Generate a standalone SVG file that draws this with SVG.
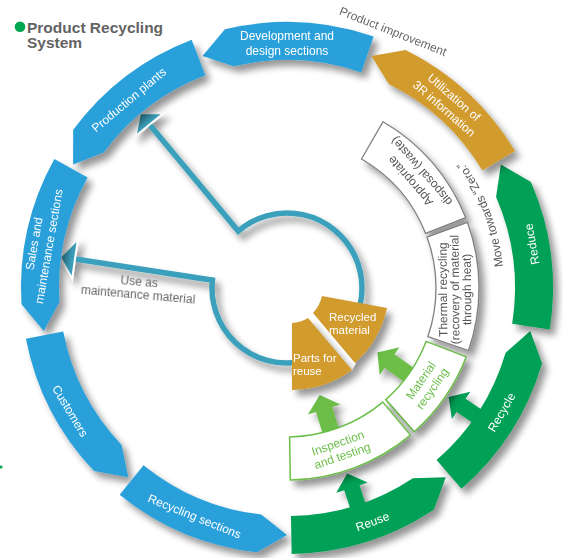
<svg xmlns="http://www.w3.org/2000/svg" width="563" height="558" viewBox="0 0 563 558">
<defs>
<filter id="sh" x="-30%" y="-30%" width="160%" height="160%">
<feGaussianBlur in="SourceAlpha" stdDeviation="3.8"/>
<feOffset dx="5" dy="6" result="o"/>
<feComponentTransfer in="o" result="s"><feFuncA type="linear" slope="0.42"/></feComponentTransfer>
<feMerge><feMergeNode in="s"/><feMergeNode in="SourceGraphic"/></feMerge>
</filter>
<path id="zeroArc" d="M504,288 A217,217 0 0 0 426.49,121.77"/>
</defs>
<style>
text{font-family:"Liberation Sans",Arial,sans-serif;font-size:12px}
.sh{filter:url(#sh)}
.blue{fill:#2AA0DA}
.green{fill:#00A056}
.gold{fill:#D19B2F}
.wt{fill:#fff}
.gt{fill:#666}
.dt{fill:#555}
.lgt{fill:#6CBE4A}
.sm{font-size:11.5px}
.box{fill:#fff;stroke:#808080;stroke-width:1.3}
.gbox{fill:#fff;stroke:#6CBE4A;stroke-width:1.5}
.teal{fill:none;stroke:#3AA0BC;stroke-width:5.5;stroke-linejoin:miter}
.thead{fill:#3AA0BC;stroke:#fff;stroke-width:2;stroke-linejoin:miter}
.ttl{font-size:15.5px;font-weight:bold;fill:#636363}
</style>
<rect width="563" height="558" fill="#fff"/>

<g id="title">
<circle cx="20" cy="26.7" r="5.3" fill="#00A651"/>
<text class="ttl" x="27" y="32.5">Product Recycling</text>
<text class="ttl" x="27" y="48">System</text>
<circle cx="1" cy="467" r="1.6" fill="#00A651"/>
</g>

<g id="connectors" class="sh">
<path class="teal" d="M75,259 L212.41,280.16 A75,75 0 1 0 238.19,231.05 L149.5,124.6"/>
<polygon class="thead" points="60,257 77.9,239.2 72.1,278.8"/>
<polygon class="thead" points="140,113 163.4,113.2 135.6,136"/>
<polygon fill="#6CBE4A" transform="translate(287,288) rotate(73)" points="112,0 127,-17 127,-8.5 151,-8.5 151,8.5 127,8.5 127,17"/>
<polygon fill="#6CBE4A" transform="translate(287,288) rotate(35.5)" points="111,0 126,-17 126,-8.5 151,-8.5 151,8.5 126,8.5 126,17"/>
<polygon fill="#00A056" transform="translate(287,288) rotate(72)" points="195,0 210,-16.5 210,-8 230,-8 230,8 210,8 210,16.5"/>
<polygon fill="#00A056" transform="translate(287,288) rotate(34)" points="195,0 210,-16.5 210,-8 230,-8 230,8 210,8 210,16.5"/>
</g>

<g id="development" class="sh">
<path class="blue" d="M373.6,36.49 A266,266 0 0 0 224.9,29.35 L202.52,55.9 L233.77,66.3 A228,228 0 0 1 361.23,72.42 Z"/>
<text class="wt" text-anchor="middle"><tspan x="287" y="40">Development and</tspan><tspan x="287" y="54.5">design sections</tspan></text>
</g>

<g id="production" class="sh">
<path class="blue" d="M191.67,39.67 A266,266 0 0 0 73.17,129.78 L73.09,164.5 L103.72,152.38 A228,228 0 0 1 205.29,75.14 Z"/>
<text class="wt" text-anchor="middle" transform="translate(129,100) rotate(-40)" y="4">Production plants</text>
</g>

<g id="sales" class="sh">
<path class="blue" d="M54.35,159.04 A266,266 0 0 0 21.5,304.24 L43.75,330.89 L59.43,301.92 A228,228 0 0 1 87.59,177.46 Z"/>
<text class="wt" text-anchor="middle" transform="translate(41.5,245) rotate(-80)"><tspan x="0" y="-3.5">Sales and</tspan><tspan x="0" y="11.5">maintenance sections</tspan></text>
</g>

<g id="customers" class="sh">
<path class="blue" d="M25.89,338.75 A266,266 0 0 0 94.05,471.1 L128.23,477.21 L121.62,444.94 A228,228 0 0 1 63.19,331.5 Z"/>
<text class="wt" text-anchor="middle" transform="translate(70,411) rotate(59)" y="4">Customers</text>
</g>

<g id="recycling-sections" class="sh">
<path class="blue" d="M119.6,494.72 A266,266 0 0 0 256.89,552.29 L287,535 L261.19,514.53 A228,228 0 0 1 143.52,465.19 Z"/>
<text class="wt" text-anchor="middle" transform="translate(194.5,516.5) rotate(22)" y="4">Recycling sections</text>
</g>

<g id="reuse" class="sh">
<path class="green" d="M291.64,553.96 A266,266 0 0 0 433.82,509.81 L445.77,477.21 L412.84,478.13 A228,228 0 0 1 290.98,515.97 Z"/>
<text class="wt" text-anchor="middle" transform="translate(372.5,521.7) rotate(-20)" y="4">Reuse</text>
</g>

<g id="recycle" class="sh">
<path class="green" d="M461.51,488.75 A266,266 0 0 0 542.05,363.55 L530.25,330.89 L505.61,352.76 A228,228 0 0 1 436.58,460.07 Z"/>
<text class="wt" text-anchor="middle" transform="translate(501.7,412.3) rotate(-60)" y="4">Recycle</text>
</g>

<g id="reduce" class="sh">
<path class="green" d="M549.73,329.61 A266,266 0 0 0 530.94,181.93 L500.91,164.5 L496.09,197.08 A228,228 0 0 1 512.19,323.67 Z"/>
<text class="wt" text-anchor="middle" transform="translate(532,244) rotate(-100)" y="4">Reduce</text>
</g>

<g id="utilization" class="sh">
<path class="gold" d="M515.01,151 A266,266 0 0 0 405.69,49.95 L371.48,55.9 L388.73,83.96 A228,228 0 0 1 482.43,170.57 Z"/>
<text class="wt" text-anchor="middle" transform="translate(449,103) rotate(41)"><tspan x="0" y="-3.5">Utilization of</tspan><tspan x="0" y="11.5">3R information</tspan></text>
</g>

<g id="labels">
<text class="gt" text-anchor="middle" transform="translate(393,31.5) rotate(21.5)" y="4">Product improvement</text>
<text class="gt" text-anchor="middle" transform="translate(138.7,287.7) rotate(5)"><tspan x="0" y="-2.5">Use as</tspan><tspan x="0" y="10.5">maintenance material</tspan></text>
<text class="dt"><textPath href="#zeroArc" startOffset="78.6" text-anchor="middle">Move towards “Zero.”</textPath></text>
</g>

<g id="appropriate-disposal" class="sh">
<path class="box" d="M361.5,158.96 L383,121.72 A192,192 0 0 1 465.64,217.63 L425.63,233.39 A149,149 0 0 0 361.5,158.96 Z"/>
<text class="dt" text-anchor="middle" transform="translate(416,176) rotate(-131)"><tspan x="0" y="-3.5">Appropriate</tspan><tspan x="0" y="11.5">disposal (waste)</tspan></text>
</g>

<g id="thermal-recycling" class="sh">
<path class="box" d="M427.01,237.04 L467.42,222.33 A192,192 0 0 1 468.54,350.51 L427.88,336.51 A149,149 0 0 0 427.01,237.04 Z"/>
<text class="dt" text-anchor="middle" transform="translate(455,289.5) rotate(-90.5)"><tspan x="0" y="-8">Thermal recycling</tspan><tspan x="0" y="4">(recovery of material</tspan><tspan x="0" y="16">through heat)</tspan></text>
</g>

<g id="material-recycling" class="sh">
<path class="gbox" d="M426.1,341.4 L466.25,356.81 A192,192 0 0 1 414.22,431.8 L385.73,399.6 A149,149 0 0 0 426.1,341.4 Z"/>
<text class="lgt" text-anchor="middle" transform="translate(426.6,384.6) rotate(-55)"><tspan x="0" y="-3">Material</tspan><tspan x="0" y="11">recycling</tspan></text>
</g>

<g id="inspection-testing" class="sh">
<path class="gbox" d="M382.78,402.14 L410.42,435.08 A192,192 0 0 1 290.35,479.97 L289.6,436.98 A149,149 0 0 0 382.78,402.14 Z"/>
<text class="lgt" text-anchor="middle" transform="translate(340,449.2) rotate(-19)"><tspan x="0" y="-2.5">Inspection</tspan><tspan x="0" y="11">and testing</tspan></text>
</g>

<g id="recycled-material" class="sh">
<polygon fill="#fff" points="307,318.5 314,312.5 356,362.5 352,370.5"/>
<path class="gold" d="M322,296 L387,308 A103,103 0 0 1 355,363 L313,313 A37,37 0 0 0 322,296 Z"/>
<text class="wt sm"><tspan x="329" y="320.5">Recycled</tspan><tspan x="329" y="333.5">material</tspan></text>
</g>

<g id="parts-for-reuse" class="sh">
<path class="gold" d="M292,323 A36,36 0 0 0 308,318 L352,370 A104,104 0 0 1 292,390 Z"/>
<text class="wt sm"><tspan x="293" y="361.5">Parts for</tspan><tspan x="293" y="374.5">reuse</tspan></text>
</g>
</svg>
